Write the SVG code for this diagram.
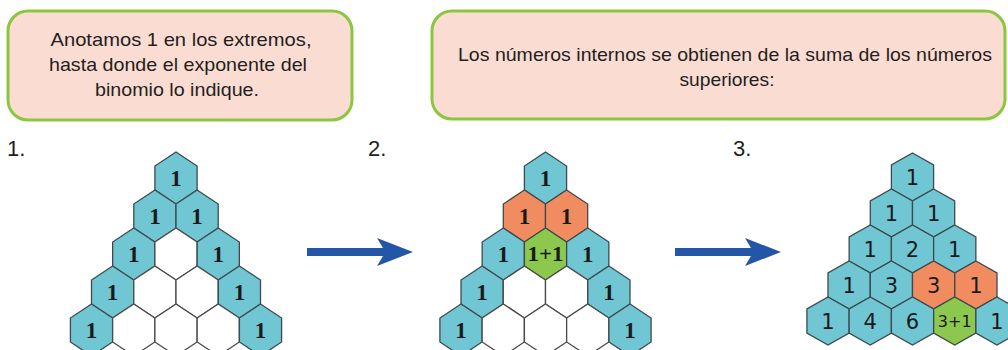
<svg xmlns="http://www.w3.org/2000/svg" xmlns:xlink="http://www.w3.org/1999/xlink" width="1008" height="350" viewBox="0 0 1008 350">
<style>
.box{fill:#fadcd3;stroke:#8cc63f;stroke-width:3}
.bt{font-family:"Liberation Sans",Arial,sans-serif;font-size:19px;fill:#231f20;text-anchor:middle}
.step{font-family:"Liberation Sans",Arial,sans-serif;font-size:22px;fill:#231f20}
.hb{fill:#70c6d2;stroke:#3d4a4f;stroke-width:1.3}
.ho{fill:#f08c5f;stroke:#3d4a4f;stroke-width:1.3}
.hg{fill:#8cc84e;stroke:#3d4a4f;stroke-width:1.3}
.hw{fill:#ffffff;stroke:#4a4a4a;stroke-width:1.3}
.n1{font-family:"Liberation Serif","Times New Roman",serif;font-size:23px;font-weight:bold;fill:#1a1a1a;text-anchor:middle}
.n1s{font-family:"Liberation Serif","Times New Roman",serif;font-size:20px;font-weight:bold;fill:#1a1a1a;text-anchor:middle}
.n3{font-family:"DejaVu Sans",Verdana,sans-serif;font-size:21px;fill:#1a1a1a;text-anchor:middle}
.n3s{font-family:"DejaVu Sans",Verdana,sans-serif;font-size:16px;fill:#1a1a1a;text-anchor:middle}
.arrow{fill:#2356a6}
</style>
<defs>
<polygon id="hexA" points="0,-26 21.1,-12 21.1,12 0,26 -21.1,12 -21.1,-12"/>
<polygon id="hexB" points="0,-24 21.1,-12 21.1,12 0,24 -21.1,12 -21.1,-12"/>
</defs>

<g id="box1">
<rect class="box" x="8" y="11" width="344" height="109" rx="20" ry="20"/>
<text class="bt" x="181" y="46" textLength="261" lengthAdjust="spacingAndGlyphs">Anotamos 1 en los extremos,</text>
<text class="bt" x="178" y="71" textLength="258" lengthAdjust="spacingAndGlyphs">hasta donde el exponente del</text>
<text class="bt" x="177" y="96" textLength="164" lengthAdjust="spacingAndGlyphs">binomio lo indique.</text>
</g>

<g id="box2">
<rect class="box" x="432" y="11" width="573" height="108" rx="20" ry="20"/>
<text class="bt" x="725" y="61" textLength="534" lengthAdjust="spacingAndGlyphs">Los números internos se obtienen de la suma de los números</text>
<text class="bt" x="727" y="86" textLength="95" lengthAdjust="spacingAndGlyphs">superiores:</text>
</g>

<g id="labels">
<text class="step" x="7" y="156">1.</text>
<text class="step" x="368" y="156">2.</text>
<text class="step" x="733" y="156">3.</text>
</g>

<g id="triangle1">
<use xlink:href="#hexA" class="hb" x="176" y="178"/>
<use xlink:href="#hexA" class="hb" x="154.9" y="216"/>
<use xlink:href="#hexA" class="hb" x="197.1" y="216"/>
<use xlink:href="#hexA" class="hb" x="133.75" y="254"/>
<use xlink:href="#hexA" class="hw" x="176" y="254"/>
<use xlink:href="#hexA" class="hb" x="218.25" y="254"/>
<use xlink:href="#hexA" class="hb" x="112.6" y="292"/>
<use xlink:href="#hexA" class="hw" x="154.9" y="292"/>
<use xlink:href="#hexA" class="hw" x="197.1" y="292"/>
<use xlink:href="#hexA" class="hb" x="239.4" y="292"/>
<use xlink:href="#hexA" class="hb" x="91.5" y="330"/>
<use xlink:href="#hexA" class="hw" x="133.75" y="330"/>
<use xlink:href="#hexA" class="hw" x="176" y="330"/>
<use xlink:href="#hexA" class="hw" x="218.25" y="330"/>
<use xlink:href="#hexA" class="hb" x="260.5" y="330"/>
<text class="n1" x="176" y="186">1</text>
<text class="n1" x="154.9" y="224">1</text>
<text class="n1" x="197.1" y="224">1</text>
<text class="n1" x="133.75" y="262">1</text>
<text class="n1" x="218.25" y="262">1</text>
<text class="n1" x="112.6" y="300">1</text>
<text class="n1" x="239.4" y="300">1</text>
<text class="n1" x="91.5" y="338">1</text>
<text class="n1" x="260.5" y="338">1</text>
</g>

<g id="triangle2">
<use xlink:href="#hexA" class="hb" x="545.5" y="178"/>
<use xlink:href="#hexA" class="ho" x="524.4" y="216"/>
<use xlink:href="#hexA" class="ho" x="566.6" y="216"/>
<use xlink:href="#hexA" class="hb" x="503.25" y="254"/>
<use xlink:href="#hexA" class="hg" x="545.5" y="254"/>
<use xlink:href="#hexA" class="hb" x="587.75" y="254"/>
<use xlink:href="#hexA" class="hb" x="482.1" y="292"/>
<use xlink:href="#hexA" class="hw" x="524.4" y="292"/>
<use xlink:href="#hexA" class="hw" x="566.6" y="292"/>
<use xlink:href="#hexA" class="hb" x="608.9" y="292"/>
<use xlink:href="#hexA" class="hb" x="461" y="330"/>
<use xlink:href="#hexA" class="hw" x="503.25" y="330"/>
<use xlink:href="#hexA" class="hw" x="545.5" y="330"/>
<use xlink:href="#hexA" class="hw" x="587.75" y="330"/>
<use xlink:href="#hexA" class="hb" x="630" y="330"/>
<text class="n1" x="545.5" y="186">1</text>
<text class="n1" x="524.4" y="224">1</text>
<text class="n1" x="566.6" y="224">1</text>
<text class="n1" x="503.25" y="262">1</text>
<text class="n1s" x="545.5" y="261" textLength="36" lengthAdjust="spacingAndGlyphs">1+1</text>
<text class="n1" x="587.75" y="262">1</text>
<text class="n1" x="482.1" y="300">1</text>
<text class="n1" x="608.9" y="300">1</text>
<text class="n1" x="461" y="338">1</text>
<text class="n1" x="630" y="338">1</text>
</g>

<g id="triangle3">
<use xlink:href="#hexB" class="hb" x="912.5" y="177"/>
<use xlink:href="#hexB" class="hb" x="891.4" y="213"/>
<use xlink:href="#hexB" class="hb" x="933.6" y="213"/>
<use xlink:href="#hexB" class="hb" x="870.25" y="249"/>
<use xlink:href="#hexB" class="hb" x="912.5" y="249"/>
<use xlink:href="#hexB" class="hb" x="954.75" y="249"/>
<use xlink:href="#hexB" class="hb" x="849.1" y="285"/>
<use xlink:href="#hexB" class="hb" x="891.4" y="285"/>
<use xlink:href="#hexB" class="ho" x="933.6" y="285"/>
<use xlink:href="#hexB" class="ho" x="975.9" y="285"/>
<use xlink:href="#hexB" class="hb" x="828" y="321"/>
<use xlink:href="#hexB" class="hb" x="870.25" y="321"/>
<use xlink:href="#hexB" class="hb" x="912.5" y="321"/>
<use xlink:href="#hexB" class="hg" x="954.75" y="321"/>
<use xlink:href="#hexB" class="hb" x="997" y="321"/>
<text class="n3" x="912.5" y="185">1</text>
<text class="n3" x="891.4" y="221">1</text>
<text class="n3" x="933.6" y="221">1</text>
<text class="n3" x="870.25" y="257">1</text>
<text class="n3" x="912.5" y="257">2</text>
<text class="n3" x="954.75" y="257">1</text>
<text class="n3" x="849.1" y="293">1</text>
<text class="n3" x="891.4" y="293">3</text>
<text class="n3" x="933.6" y="293">3</text>
<text class="n3" x="975.9" y="293">1</text>
<text class="n3" x="828" y="329">1</text>
<text class="n3" x="870.25" y="329">4</text>
<text class="n3" x="912.5" y="329">6</text>
<text class="n3s" x="954.75" y="327">3+1</text>
<text class="n3" x="997" y="329">1</text>
</g>

<g id="connectors">
<path class="arrow" d="M307,248 L383,248 L377,238 L413,252 L377,266 L383,256 L307,256 Z"/>
<path class="arrow" d="M675,248 L751,248 L745,238 L781,252 L745,266 L751,256 L675,256 Z"/>
</g>
</svg>
